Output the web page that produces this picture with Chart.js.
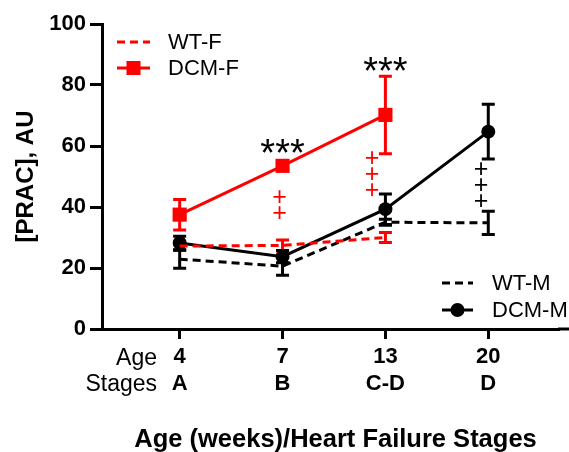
<!DOCTYPE html>
<html>
<head>
<meta charset="utf-8">
<script src="https://cdn.jsdelivr.net/npm/chart.js@4"></script>
<style>
html,body{margin:0;padding:0;background:#fff;}
#wrap{width:569px;height:452px;}
</style>
</head>
<body>
<div id="wrap"><canvas id="c" width="569" height="452"></canvas></div>
<script>
// ---- data ----
const weeks = ['4', '7', '13', '20'];
const stages = ['A', 'B', 'C-D', 'D'];
const rowLabels = ['Age', 'Stages'];
const seriesNames = ['WT-F', 'DCM-F', 'WT-M', 'DCM-M'];
const wtF = [27.2, 27.4, 30, null];
const wtFErr = [1.5, 1.8, 1.6, null];
const dcmF = [37.5, 53.5, 70.2, null];
const dcmFErr = [5, 1, 12.7, null];
const wtM = [22.9, 20.6, 35, 34.8];
const wtMErr = [3, 3, 1, 3.8];
const dcmM = [28.2, 23.7, 39.3, 64.7];
const dcmMErr = [2.2, 2, 5, 9];
const yTicks = [0, 20, 40, 60, 80, 100];
const yTitle = '[PRAC], AU';
const xTitle = 'Age (weeks)/Heart Failure Stages';
// significance marks: category position, value, text
const starMarks = [{x: 2, y: 59.5, t: '***'}, {x: 3, y: 86.3, t: '***'}];
const plusMarks = [
  {x: 1.97, y: 40.6, n: 2, c: 'red'},
  {x: 2.87, y: 50.8, n: 3, c: 'red'},
  {x: 3.93, y: 47.2, n: 3, c: 'black'}
];

const FONT = '"Liberation Sans", Arial, sans-serif';
const RED = '#ff0000';
const BLACK = '#000000';

function pts(arr) {
  return arr.map((v, i) => ({x: i + 1, y: v}));
}
const errs = [wtFErr, dcmFErr, wtMErr, dcmMErr];

const errorBarPlugin = {
  id: 'errorBars',
  beforeDatasetsDraw(chart) {
    const ctx = chart.ctx;
    const xs = chart.scales.x, ys = chart.scales.y;
    chart.data.datasets.forEach((ds, di) => {
      const e = errs[di];
      ds.data.forEach((p, i) => {
        if (p.y == null || e[i] == null) return;
        const x = xs.getPixelForValue(p.x);
        const y1 = ys.getPixelForValue(p.y + e[i]);
        const y2 = ys.getPixelForValue(p.y - e[i]);
        ctx.save();
        ctx.strokeStyle = ds.borderColor;
        ctx.lineWidth = 3;
        ctx.setLineDash([]);
        ctx.beginPath();
        ctx.moveTo(x, y1); ctx.lineTo(x, y2);
        ctx.moveTo(x - 6.5, y1); ctx.lineTo(x + 6.5, y1);
        ctx.moveTo(x - 6.5, y2); ctx.lineTo(x + 6.5, y2);
        ctx.stroke();
        ctx.restore();
      });
    });
  }
};

function legendRow(ctx, ds, x0, x1, y, tx) {
  ctx.save();
  ctx.strokeStyle = ds.borderColor;
  ctx.lineWidth = 3;
  ctx.setLineDash(ds.borderDash || []);
  ctx.beginPath();
  ctx.moveTo(x0, y); ctx.lineTo(x1, y);
  ctx.stroke();
  ctx.setLineDash([]);
  const cx = (x0 + x1) / 2;
  ctx.fillStyle = ds.borderColor;
  if (ds.pointStyle === 'rect' && ds.pointRadius > 0) {
    ctx.fillRect(cx - 7, y - 7, 14, 14);
  } else if (ds.pointStyle === 'circle' && ds.pointRadius > 0) {
    ctx.beginPath(); ctx.arc(cx, y, 7, 0, Math.PI * 2); ctx.fill();
  }
  ctx.fillStyle = '#000';
  ctx.font = '22px ' + FONT;
  ctx.textAlign = 'left';
  ctx.textBaseline = 'middle';
  ctx.fillText(ds.label, tx, y + 1);
  ctx.restore();
}

const decorPlugin = {
  id: 'decor',
  afterDraw(chart) {
    const ctx = chart.ctx;
    const xs = chart.scales.x, ys = chart.scales.y;
    const ca = chart.chartArea;
    const ds = chart.data.datasets;
    // extend the x axis line to the right edge, as in the original
    ctx.save();
    ctx.strokeStyle = '#000';
    ctx.lineWidth = 3;
    ctx.beginPath();
    ctx.moveTo(ca.right - 1, ca.bottom);
    ctx.lineTo(chart.width, ca.bottom);
    ctx.stroke();
    ctx.restore();
    // legends
    legendRow(ctx, ds[0], 117, 150, 42, 168);
    legendRow(ctx, ds[1], 117, 150, 68, 168);
    legendRow(ctx, ds[2], 442, 473, 283, 492);
    legendRow(ctx, ds[3], 442, 473, 310, 492);
    ctx.save();
    // stars
    ctx.fillStyle = '#000';
    ctx.font = '38px ' + FONT;
    ctx.textAlign = 'center';
    ctx.textBaseline = 'middle';
    starMarks.forEach(s => {
      ctx.fillText(s.t, xs.getPixelForValue(s.x), ys.getPixelForValue(s.y) + 8);
    });
    // plus marks
    ctx.font = '25px ' + FONT;
    plusMarks.forEach(p => {
      ctx.fillStyle = p.c === 'red' ? RED : BLACK;
      const cx = xs.getPixelForValue(p.x);
      const cy = ys.getPixelForValue(p.y);
      for (let k = 0; k < p.n; k++) {
        const yy = cy + (k - (p.n - 1) / 2) * 16;
        ctx.fillText('+', cx, yy + 1);
      }
    });
    // row labels
    ctx.fillStyle = '#000';
    ctx.font = '23px ' + FONT;
    ctx.textAlign = 'right';
    ctx.fillText(rowLabels[0], 157, 359);
    ctx.fillText(rowLabels[1], 157, 385);
    // axis titles
    ctx.font = 'bold 25.5px ' + FONT;
    ctx.textAlign = 'center';
    ctx.fillText(xTitle, (ca.left + chart.width) / 2, 440);
    ctx.font = 'bold 24px ' + FONT;
    ctx.translate(26, (ca.top + ca.bottom) / 2);
    ctx.rotate(-Math.PI / 2);
    ctx.fillText(yTitle, 0, 0);
    ctx.restore();
  }
};

const chart = new Chart(document.getElementById('c'), {
  type: 'line',
  data: {
    datasets: [
      {label: seriesNames[0], data: pts(wtF), borderColor: RED, backgroundColor: RED,
       borderWidth: 3, borderDash: [8, 5], pointRadius: 0, pointStyle: 'circle', spanGaps: false},
      {label: seriesNames[1], data: pts(dcmF), borderColor: RED, backgroundColor: RED,
       borderWidth: 3, pointStyle: 'rect', pointRadius: 10, pointBorderWidth: 0},
      {label: seriesNames[2], data: pts(wtM), borderColor: BLACK, backgroundColor: BLACK,
       borderWidth: 3, borderDash: [8, 5], pointRadius: 0, pointStyle: 'circle'},
      {label: seriesNames[3], data: pts(dcmM), borderColor: BLACK, backgroundColor: BLACK,
       borderWidth: 3, pointStyle: 'circle', pointRadius: 7, pointBorderWidth: 0}
    ]
  },
  options: {
    responsive: false,
    animation: false,
    layout: {padding: {top: 24, right: -8, left: 0, bottom: 0}},
    plugins: {legend: {display: false}, tooltip: {enabled: false}},
    scales: {
      x: {
        type: 'linear',
        min: 0.245, max: 4.6875,
        afterBuildTicks(scale) { scale.ticks = [1, 2, 3, 4].map(v => ({value: v})); },
        afterFit(scale) { scale.height = 123; },
        border: {display: true, color: '#000', width: 3},
        grid: {display: true, drawOnChartArea: false, drawTicks: true, tickLength: 10, tickWidth: 3, tickColor: '#000'},
        ticks: {
          color: '#000',
          font: {family: FONT, size: 22, weight: 'bold'},
          padding: 5,
          maxRotation: 0,
          autoSkip: false,
          callback: (v) => [weeks[v - 1], stages[v - 1]]
        }
      },
      y: {
        min: 0, max: 100,
        afterBuildTicks(scale) { scale.ticks = yTicks.map(v => ({value: v})); },
        afterFit(scale) { scale.width = 102; },
        border: {display: true, color: '#000', width: 3},
        grid: {display: true, drawOnChartArea: false, drawTicks: true, tickLength: 12, tickWidth: 3, tickColor: '#000'},
        ticks: {
          color: '#000',
          font: {family: FONT, size: 22, weight: 'bold'},
          padding: 4
        }
      }
    }
  },
  plugins: [errorBarPlugin, decorPlugin]
});
</script>
</body>
</html>
